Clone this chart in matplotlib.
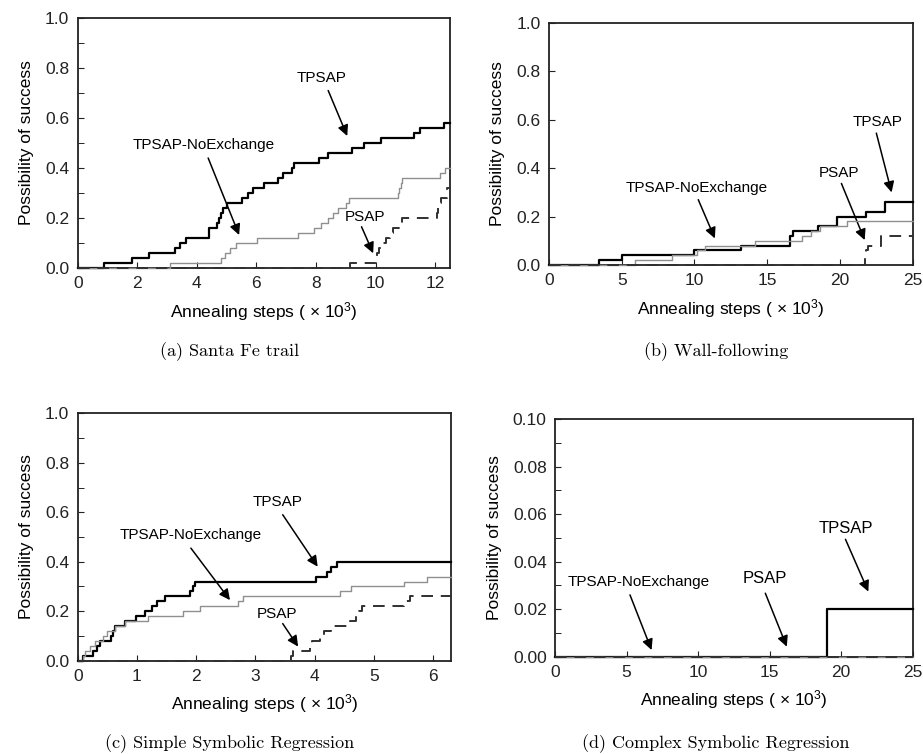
import matplotlib
matplotlib.use("Agg")
import matplotlib.pyplot as plt
from matplotlib.ticker import MultipleLocator, FormatStrFormatter

plt.rcParams['font.family'] = ['Liberation Sans', 'DejaVu Sans']
plt.rcParams['mathtext.default'] = 'regular'

W, H = 923, 754

# (a) Santa Fe trail -- step positions (x 10^3) and success rates
a_tpsap_x = [0, 0.87, 1.82, 2.38, 3.28, 3.45, 3.62, 4.40, 4.69, 4.76, 4.82, 4.89, 5.02, 5.53, 5.72,
             5.87, 6.26, 6.71, 6.88, 7.20, 7.27, 8.11, 8.39, 9.20, 9.60, 10.2, 11.3, 11.5, 12.3, 12.5]
a_tpsap_y = [0, 0.02, 0.04, 0.06, 0.08, 0.10, 0.12, 0.16, 0.18, 0.20, 0.22, 0.24, 0.26, 0.28, 0.30,
             0.32, 0.34, 0.36, 0.38, 0.40, 0.42, 0.44, 0.46, 0.48, 0.50, 0.52, 0.54, 0.56, 0.58, 0.58]
a_noex_x = [0, 3.11, 4.80, 4.95, 5.10, 5.30, 6.03, 7.38, 7.94, 8.17, 8.39, 8.56, 8.73, 9.01, 9.12,
            10.76, 10.80, 10.85, 10.90, 12.16, 12.33, 12.5]
a_noex_y = [0, 0.02, 0.04, 0.06, 0.08, 0.10, 0.12, 0.14, 0.16, 0.18, 0.20, 0.22, 0.24, 0.26, 0.28,
            0.30, 0.32, 0.34, 0.36, 0.38, 0.40, 0.40]
a_psap_x = [0, 9.15, 10.0, 10.05, 10.1, 10.2, 10.35, 10.5, 10.6, 10.9, 12.05, 12.1, 12.2, 12.4, 12.5]
a_psap_y = [0, 0.02, 0.04, 0.06, 0.08, 0.10, 0.12, 0.14, 0.16, 0.20, 0.22, 0.26, 0.28, 0.32, 0.32]

# (b) Wall-following
b_tpsap_x = [0, 3.44, 5.0, 10.0, 13.2, 16.6, 16.8, 18.5, 19.8, 21.8, 23.1, 25]
b_tpsap_y = [0, 0.02, 0.04, 0.06, 0.08, 0.12, 0.14, 0.16, 0.20, 0.22, 0.26, 0.26]
b_noex_x = [0, 5.9, 8.43, 10.15, 10.7, 14.16, 17.4, 18.0, 18.6, 20.5, 25]
b_noex_y = [0, 0.02, 0.04, 0.06, 0.08, 0.10, 0.12, 0.14, 0.16, 0.18, 0.18]
b_psap_x = [0, 21.7, 21.8, 21.9, 22.8, 25]
b_psap_y = [0, 0.04, 0.06, 0.08, 0.12, 0.12]

# (c) Simple Symbolic Regression
c_tpsap_x = [0, 0.084, 0.26, 0.32, 0.38, 0.57, 0.60, 0.63, 0.80, 0.99, 1.13, 1.25, 1.33, 1.47,
             1.89, 1.94, 1.98, 4.03, 4.20, 4.28, 4.37, 6.3]
c_tpsap_y = [0, 0.02, 0.04, 0.06, 0.08, 0.10, 0.12, 0.14, 0.16, 0.18, 0.20, 0.22, 0.24, 0.26,
             0.28, 0.30, 0.32, 0.34, 0.36, 0.38, 0.40, 0.40]
c_noex_x = [0, 0.084, 0.12, 0.20, 0.29, 0.43, 0.49, 0.63, 0.80, 1.19, 1.78, 2.06, 2.70, 2.79,
            4.42, 4.62, 5.50, 5.90, 6.3]
c_noex_y = [0, 0.02, 0.04, 0.06, 0.08, 0.10, 0.12, 0.14, 0.16, 0.18, 0.20, 0.22, 0.24, 0.26,
            0.28, 0.30, 0.32, 0.34, 0.34]
c_psap_x = [0, 3.60, 3.63, 3.92, 3.95, 4.09, 4.15, 4.28, 4.59, 4.70, 4.75, 4.79, 5.50, 5.60, 6.3]
c_psap_y = [0, 0.02, 0.04, 0.06, 0.08, 0.10, 0.12, 0.14, 0.16, 0.18, 0.20, 0.22, 0.24, 0.26, 0.26]

# (d) Complex Symbolic Regression
d_tpsap_x = [0, 19.0, 25]
d_tpsap_y = [0, 0.02, 0.02]
d_noex_x = [0, 25]
d_noex_y = [0, 0]
d_psap_x = [0, 25]
d_psap_y = [0, 0]


def box(l, t, r, b):
    return [l / W, 1 - b / H, (r - l) / W, (b - t) / H]


def draw(ax, tp, ne, ps):
    # black under, gray over it, dashed on top (zero runs show gray/dark dashes)
    ax.step(tp[0], tp[1], where='post', color='black', lw=1.6, zorder=3, clip_on=False)
    ax.step(ne[0], ne[1], where='post', color='#8f8f8f', lw=1.0, zorder=3.1, clip_on=False)
    ax.step(ps[0], ps[1], where='post', color='#303030', lw=1.4, linestyle=(0, (6, 4)),
            zorder=3.2, clip_on=False)
    for s in ax.spines.values():
        s.set_linewidth(1.3)
        s.set_color('#222222')
    ax.tick_params(direction='in', length=4, labelsize=12.5, pad=6, colors='#222222')
    ax.tick_params(which='minor', direction='in', length=4)
    ax.set_ylabel('Possibility of success', fontsize=12.5, labelpad=8)
    ax.set_xlabel('Annealing steps ( $\\times$ 10$^3$)', fontsize=12.5, labelpad=6)


def label(ax, text, txy, start, tip, fs=11):
    ax.text(txy[0], txy[1], text, ha='center', va='center', fontsize=fs)
    ax.annotate('', xy=tip, xytext=start,
                arrowprops=dict(arrowstyle='-|>', color='black', lw=1.1, mutation_scale=16,
                                shrinkA=0, shrinkB=0))


fig = plt.figure(figsize=(W / 100, H / 100), dpi=100)

# (a)
ax = fig.add_axes(box(77.7, 18, 450, 268))
draw(ax, (a_tpsap_x, a_tpsap_y), (a_noex_x, a_noex_y), (a_psap_x, a_psap_y))
ax.set_xlim(0, 12.5)
ax.set_ylim(0, 1.0)
ax.xaxis.set_major_locator(MultipleLocator(2))
ax.yaxis.set_major_locator(MultipleLocator(0.2))
ax.yaxis.set_minor_locator(MultipleLocator(0.1))
ax.yaxis.set_major_formatter(FormatStrFormatter('%.1f'))
label(ax, 'TPSAP', (8.19, 0.76), (8.41, 0.71), (9.05, 0.528))
label(ax, 'TPSAP-NoExchange', (4.24, 0.49), (4.38, 0.44), (5.42, 0.132))
label(ax, 'PSAP', (9.64, 0.205), (9.53, 0.165), (9.92, 0.059))
fig.text(230 / W, 1 - 352 / H, '(a) Santa Fe trail', family='cmr10', fontsize=13, ha='center', va='center')

# (b)
ax = fig.add_axes(box(549, 23, 912.7, 265))
draw(ax, (b_tpsap_x, b_tpsap_y), (b_noex_x, b_noex_y), (b_psap_x, b_psap_y))
ax.set_xlim(0, 25)
ax.set_ylim(0, 1.0)
ax.xaxis.set_major_locator(MultipleLocator(5))
ax.yaxis.set_major_locator(MultipleLocator(0.2))
ax.yaxis.set_major_formatter(FormatStrFormatter('%.1f'))
label(ax, 'TPSAP', (22.6, 0.59), (22.5, 0.545), (23.55, 0.30))
label(ax, 'TPSAP-NoExchange', (10.15, 0.317), (10.26, 0.27), (11.4, 0.11))
label(ax, 'PSAP', (19.9, 0.379), (20.1, 0.337), (21.7, 0.103))
fig.text(716 / W, 1 - 352 / H, '(b) Wall-following', family='cmr10', fontsize=13, ha='center', va='center')

# (c)
ax = fig.add_axes(box(77.7, 413.3, 451, 660.7))
draw(ax, (c_tpsap_x, c_tpsap_y), (c_noex_x, c_noex_y), (c_psap_x, c_psap_y))
ax.set_xlim(0, 6.3)
ax.set_ylim(0, 1.0)
ax.xaxis.set_major_locator(MultipleLocator(1))
ax.yaxis.set_major_locator(MultipleLocator(0.2))
ax.yaxis.set_minor_locator(MultipleLocator(0.1))
ax.yaxis.set_major_formatter(FormatStrFormatter('%.1f'))
label(ax, 'TPSAP', (3.38, 0.64), (3.46, 0.59), (4.05, 0.38))
label(ax, 'TPSAP-NoExchange', (1.9, 0.51), (1.91, 0.455), (2.57, 0.245))
label(ax, 'PSAP', (3.36, 0.19), (3.46, 0.15), (3.72, 0.057))
fig.text(230 / W, 1 - 744 / H, '(c) Simple Symbolic Regression', family='cmr10', fontsize=13, ha='center', va='center')

# (d)
ax = fig.add_axes(box(555, 419, 912.7, 656.7))
draw(ax, (d_tpsap_x, d_tpsap_y), (d_noex_x, d_noex_y), (d_psap_x, d_psap_y))
ax.set_xlim(0, 25)
ax.set_ylim(0, 0.1)
ax.xaxis.set_major_locator(MultipleLocator(5))
ax.yaxis.set_major_locator(MultipleLocator(0.02))
ax.yaxis.set_minor_locator(MultipleLocator(0.01))
ax.yaxis.set_major_formatter(FormatStrFormatter('%.2f'))
label(ax, 'TPSAP', (20.3, 0.054), (20.3, 0.0494), (21.9, 0.0274), fs=12)
label(ax, 'PSAP', (14.65, 0.033), (14.7, 0.0267), (16.2, 0.0042), fs=12)
label(ax, 'TPSAP-NoExchange', (5.82, 0.0316), (5.24, 0.026), (6.75, 0.0028), fs=11)
fig.text(716 / W, 1 - 744 / H, '(d) Complex Symbolic Regression', family='cmr10', fontsize=13, ha='center', va='center')

fig.savefig('out.png', dpi=100)
